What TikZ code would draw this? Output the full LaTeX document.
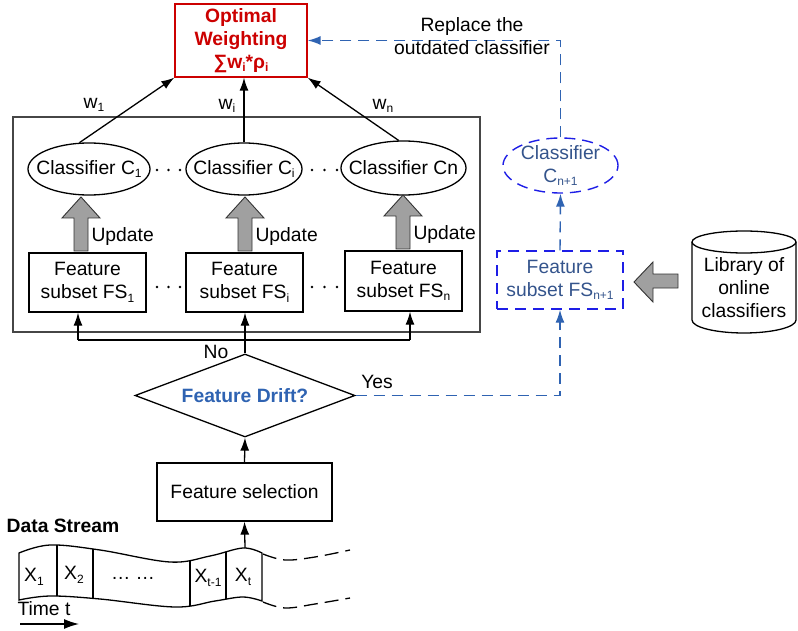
\documentclass[tikz,border=0pt]{standalone}
\usepackage{fontspec}
\setmainfont{Liberation Sans}
\usetikzlibrary{shapes.geometric,arrows.meta}

\definecolor{owred}{RGB}{204,0,0}
\definecolor{driftblue}{RGB}{47,99,178}
\definecolor{edgeblue}{RGB}{30,30,230}
\definecolor{slateblue}{RGB}{52,84,140}
\definecolor{blkgray}{RGB}{160,160,160}
\definecolor{framegray}{RGB}{70,70,70}

% lowered small index used in the labels
\newcommand{\lo}[1]{\raisebox{-0.35ex}{\fontsize{12}{12}\selectfont #1}}
% upward block arrow: centre x, bottom y, tip y
\newcommand{\uparr}[3]{%
  \filldraw[blockarr] (#1-7,#2) -- (#1-7,#3+21) -- (#1-19,#3+21) -- (#1,#3)
    -- (#1+19,#3+21) -- (#1+7,#3+21) -- (#1+7,#2) -- cycle;}

\tikzset{
  basefont/.style={font=\fontsize{19.3}{23}\selectfont},
  line/.style={line width=1.3pt, black},
  arr/.style={-{Latex[length=13pt,width=9pt]}},
  bdash/.style={line width=1.4pt, driftblue, dash pattern=on 11pt off 7pt},
  boxnode/.style={draw, line width=1.3pt, rectangle, align=center, inner sep=0pt},
  ellnode/.style={draw, line width=1.3pt, ellipse, inner sep=0pt},
  blockarr/.style={fill=blkgray, draw=black!80, line width=0.9pt},
  dotmark/.style={circle, fill=black, inner sep=0pt, minimum size=2.6pt},
}

\begin{document}
\begin{tikzpicture}[x=1pt, y=-1pt, basefont]
\useasboundingbox (0,0) rectangle (798,631);

% ---- ensemble frame ----
\node[draw=framegray, line width=1.1pt, minimum width=467, minimum height=215, inner sep=0pt] (frame) at (246.5,224.5) {};

% ---- weighting box ----
\node[boxnode, draw=owred, text=owred, font=\fontsize{19.3}{23}\selectfont\bfseries,
      minimum width=132, minimum height=73] (ow) at (241,40.5)
      {Optimal\\Weighting\\∑w\lo{i}*ρ\lo{i}};

% ---- classifiers ----
\node[ellnode, minimum width=122, minimum height=52, label=center:{Classifier C\lo{1}}] (c1) at (89,169) {};
\node[ellnode, minimum width=116, minimum height=52, label=center:{Classifier C\lo{i}}] (ci) at (244,169) {};
\node[ellnode, minimum width=125, minimum height=54, label=center:{Classifier Cn}] (cn) at (403.5,168) {};

% ---- feature subsets ----
\node[boxnode, minimum width=117, minimum height=59] (fs1) at (87.5,282.5) {Feature\\subset FS\lo{1}};
\node[boxnode, minimum width=117, minimum height=59] (fsi) at (244.5,282.5) {Feature\\subset FS\lo{i}};
\node[boxnode, minimum width=117, minimum height=60] (fsn) at (403.5,281) {Feature\\subset FS\lo{n}};

% dots between the columns
\foreach \x in {157,168.5,180,312,324.5,337} {
  \node[dotmark] at (\x,170) {};
  \node[dotmark] at (\x,287) {};
}

% ---- update arrows ----
\uparr{81}{251}{197}
\uparr{245}{251}{197}
\uparr{403}{249}{195}
\node[anchor=west] (up1) at (88,237) {Update};
\node[anchor=west] (up2) at (252,237) {Update};
\node[anchor=west] (up3) at (410,235) {Update};

% ---- classifiers to weighting ----
\draw[line, arr] (c1.110) -- (ow.south west);
\draw[line, arr] (ci.north) -- (ci.north |- ow.south);
\draw[line, arr] (cn.100) -- (ow.south east);
\node (lw1) at (94,105) {w\lo{1}};
\node (lwi) at (227,106) {w\lo{i}};
\node (lwn) at (383,106) {w\lo{n}};

% ---- drift decision ----
\node[draw, line width=1.3pt, diamond, aspect=2.65, inner sep=0pt,
      minimum width=220, minimum height=83,
      label={[text=driftblue, font=\fontsize{19.3}{23}\selectfont\bfseries]center:Feature Drift?}]
      (drift) at (245,395.5) {};
\node (no) at (216,352) {No};
\node (yes) at (377,382) {Yes};

\coordinate (bus) at (245,340);
\coordinate (bus1) at (78,340);
\coordinate (busn) at (410,340);
\draw[line] (drift.north) -- (bus);
\draw[line] (bus1) -- (busn);
\draw[line, arr] (bus) -- (bus |- fsi.south);
\draw[line, arr] (bus1) -- (bus1 |- fs1.south);
\draw[line, arr] (busn) -- (busn |- fsn.south);

% ---- feature selection ----
\node[boxnode, minimum width=175, minimum height=58] (fsel) at (244.5,492) {Feature selection};
\draw[line, arr] (fsel.north) -- (drift.south);

% ---- new classifier branch ----
\node[boxnode, draw=edgeblue, text=slateblue, line width=1.4pt, dash pattern=on 11pt off 7pt,
      minimum width=126, minimum height=58] (fsn1) at (560,280) {Feature\\subset FS\lo{n+1}};
\node[ellnode, draw=edgeblue, line width=1.4pt, dash pattern=on 11pt off 7pt, minimum width=115, minimum height=55,
      label={[text=slateblue, align=center]center:Classifier\\C\lo{n+1}}] (cn1) at (560.5,165.5) {};

\draw[bdash, arr] (drift.east) -| (fsn1.south);
\draw[bdash, arr] (fsn1.north) -- (cn1.south);
\draw[bdash, arr] (cn1.north) |- (ow.east);
\node[align=center] (replace) at (472,36.5) {Replace the\\outdated classifier};

% ---- library cylinder ----
\draw[line] (692,242) -- (692,320) arc[start angle=180, end angle=360, x radius=52, y radius=-13]
  -- (796,242);
\draw[line] (744,242) ellipse[x radius=52, y radius=11];
\node[align=center] (lib) at (744,288) {Library of\\online\\classifiers};
\filldraw[blockarr] (678,274) -- (653,274) -- (653,262) -- (634,282) -- (653,302) -- (653,288) -- (678,288) -- cycle;

% ---- data stream ----
\node[font=\fontsize{19.3}{23}\selectfont\bfseries] (ds) at (63,526) {Data Stream};
\draw[line]
  plot[smooth, tension=0.6] coordinates {(19,553) (50,545) (100,550) (170,562) (210,556) (243,548) (262,553)}
  -- plot[smooth, tension=0.6] coordinates {(262,601) (243,597) (215,601) (175,607) (100,599) (50,596) (19,600)}
  -- cycle;
\begin{scope}
  \clip plot[smooth, tension=0.6] coordinates {(19,553) (50,545) (100,550) (170,562) (210,556) (243,548) (262,553)}
    -- plot[smooth, tension=0.6] coordinates {(262,601) (243,597) (215,601) (175,607) (100,599) (50,596) (19,600)}
    -- cycle;
  \foreach \x in {57,93,190,226} \draw[line] (\x,530) -- (\x,620);
\end{scope}
\draw[line, dash pattern=on 14pt off 7pt] plot[smooth, tension=0.6] coordinates {(263,554) (285,560) (315,557) (350,550)};
\draw[line, dash pattern=on 14pt off 7pt] plot[smooth, tension=0.6] coordinates {(263,602) (285,608) (315,604) (350,598)};

\node (x1) at (34,577) {X\lo{1}};
\node (x2) at (74,575) {X\lo{2}};
\node (xdots) at (133,578) {… …};
\node (xtm) at (208,578) {X\lo{t-1}};
\node (xt) at (243,577) {X\lo{t}};

\coordinate (tapetop) at (245,548);
\draw[line, arr] (tapetop) -- (fsel.south);

\node (time) at (44,609) {Time t};
\coordinate (ta) at (20,624);
\coordinate (tb) at (79,624);
\draw[line, -{Latex[length=15pt,width=10pt]}] (ta) -- (tb);
\end{tikzpicture}
\end{document}
